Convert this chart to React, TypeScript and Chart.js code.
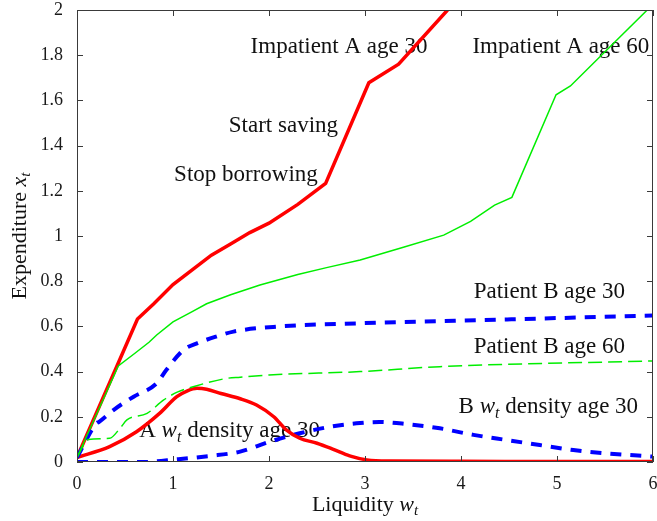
import React, { useEffect, useRef } from "react";
import { Chart, registerables } from "chart.js";

Chart.register(...registerables);

const FONT = '"Liberation Serif", "Times New Roman", serif';

// Impatient A age 30 (policy)
const impA30X = [0, 0.63, 0.8, 1.0, 1.2, 1.4, 1.6, 1.8, 2.0, 2.3, 2.59, 3.04, 3.35, 3.86];
const impA30Y = [0.02, 0.633, 0.70, 0.785, 0.85, 0.915, 0.965, 1.015, 1.057, 1.14, 1.233, 1.678, 1.76, 2.0];

// Impatient A age 60 (policy)
const impA60X = [0, 0.43, 0.6, 0.75, 0.83, 1.0, 1.2, 1.35, 1.6, 1.906, 2.3, 2.6, 2.95, 3.4, 3.82, 4.1, 4.35, 4.53, 4.99, 5.14, 5.5, 5.94];
const impA60Y = [0.02, 0.425, 0.48, 0.53, 0.562, 0.62, 0.665, 0.70, 0.74, 0.783, 0.83, 0.86, 0.894, 0.95, 1.004, 1.065, 1.137, 1.171, 1.625, 1.664, 1.815, 2.0];

// Patient B age 30 (policy)
const patB30X = [0, 0.2, 0.23, 0.38, 0.59, 0.83, 0.93, 1.11, 1.25, 1.45, 1.63, 2.08, 2.95, 4.48, 6];
const patB30Y = [0.02, 0.17, 0.178, 0.23, 0.289, 0.348, 0.407, 0.496, 0.525, 0.555, 0.577, 0.599, 0.614, 0.631, 0.648];

// Patient B age 60 (policy)
const patB60X = [0, 0.12, 0.34, 0.45, 0.52, 0.73, 0.9, 1.05, 1.21, 1.56, 1.7, 2.0, 2.95, 3.78, 6];
const patB60Y = [0.02, 0.10, 0.105, 0.15, 0.186, 0.215, 0.274, 0.31, 0.333, 0.37, 0.375, 0.385, 0.40, 0.422, 0.447];

// A w_t density age 30
const densAX = [0, 0.34, 0.62, 0.86, 1.04, 1.15, 1.25, 1.35, 1.5, 1.7, 1.87, 2.05, 2.18, 2.32, 2.5, 2.67, 2.84, 3.02, 3.26, 4, 5, 6];
const densAY = [0.02, 0.068, 0.134, 0.215, 0.289, 0.315, 0.326, 0.322, 0.303, 0.28, 0.252, 0.20, 0.142, 0.105, 0.083, 0.056, 0.027, 0.009, 0.004, 0.003, 0.002, 0.002];

// B w_t density age 30
const densBX = [0, 0.69, 1.04, 1.39, 1.70, 2.01, 2.32, 2.64, 2.91, 3.15, 3.43, 3.78, 4.13, 4.48, 4.82, 5.17, 5.52, 6];
const densBY = [0.0, 0.0, 0.012, 0.027, 0.046, 0.09, 0.127, 0.156, 0.171, 0.177, 0.168, 0.149, 0.12, 0.097, 0.075, 0.053, 0.038, 0.024];

const xTickValues = [0, 1, 2, 3, 4, 5, 6];
const xTickLabels = ["0", "1", "2", "3", "4", "5", "6"];
const yTickValues = [0, 0.2, 0.4, 0.6, 0.8, 1, 1.2, 1.4, 1.6, 1.8, 2];
const yTickLabels = ["0", "0.2", "0.4", "0.6", "0.8", "1", "1.2", "1.4", "1.6", "1.8", "2"];

type Part = [string, "" | "i" | "sub"];

const xTitle: Part[] = [["Liquidity ", ""], ["w", "i"], ["t", "sub"]];
const yTitle: Part[] = [["Expenditure ", ""], ["x", "i"], ["t", "sub"]];

const annotationTexts: Part[][] = [
  [["Impatient A age 30", ""]],
  [["Impatient A age 60", ""]],
  [["Start saving", ""]],
  [["Stop borrowing", ""]],
  [["Patient B age 30", ""]],
  [["Patient B age 60", ""]],
  [["B ", ""], ["w", "i"], ["t", "sub"], [" density age 30", ""]],
  [["A ", ""], ["w", "i"], ["t", "sub"], [" density age 30", ""]],
];
const annotationAt: [number, number][] = [
  [2.73, 1.836],
  [5.04, 1.836],
  [2.15, 1.487],
  [1.76, 1.27],
  [4.92, 0.754],
  [4.92, 0.507],
  [4.91, 0.242],
  [1.59, 0.136],
];

const pts = (xs: number[], ys: number[]) => xs.map((x, i) => ({ x, y: ys[i] }));

function partFont(style: string, size: number) {
  if (style === "i") return `italic ${size}px ${FONT}`;
  if (style === "sub") return `italic ${Math.round(size * 0.7)}px ${FONT}`;
  return `${size}px ${FONT}`;
}

function drawRich(ctx: CanvasRenderingContext2D, parts: Part[], cx: number, cy: number, size: number) {
  let total = 0;
  const widths = parts.map(([t, s]) => {
    ctx.font = partFont(s, size);
    const w = ctx.measureText(t).width;
    total += w;
    return w;
  });
  let x = cx - total / 2;
  ctx.textAlign = "left";
  ctx.textBaseline = "middle";
  parts.forEach(([t, s], i) => {
    ctx.font = partFont(s, size);
    ctx.fillText(t, x, s === "sub" ? cy + size * 0.28 : cy);
    x += widths[i];
  });
}

const decorPlugin = {
  id: "decor",
  beforeDatasetsDraw(chart: any) {
    const { ctx, chartArea: a, scales } = chart;
    const xs = scales.x;
    const ys = scales.y;
    ctx.save();
    ctx.fillStyle = "#111";
    annotationTexts.forEach((parts, i) => {
      const [vx, vy] = annotationAt[i];
      drawRich(ctx, parts, xs.getPixelForValue(vx), ys.getPixelForValue(vy), 23);
    });
    // axis titles
    drawRich(ctx, xTitle, (a.left + a.right) / 2, 505, 22);
    ctx.save();
    ctx.translate(20, (a.top + a.bottom) / 2);
    ctx.rotate(-Math.PI / 2);
    drawRich(ctx, yTitle, 0, 0, 22);
    ctx.restore();
    ctx.restore();
  },
  afterDatasetsDraw(chart: any) {
    const { ctx, chartArea: a, scales } = chart;
    const xs = scales.x;
    const ys = scales.y;
    ctx.save();
    ctx.strokeStyle = "#3a3a3a";
    ctx.lineWidth = 1;
    ctx.beginPath();
    ctx.rect(Math.round(a.left) + 0.5, Math.round(a.top) + 0.5, Math.round(a.right - a.left) - 1, Math.round(a.bottom - a.top) - 1);
    const tl = 6;
    xTickValues.forEach((v) => {
      const px = Math.round(xs.getPixelForValue(v)) + 0.5;
      ctx.moveTo(px, a.bottom);
      ctx.lineTo(px, a.bottom - tl);
      ctx.moveTo(px, a.top);
      ctx.lineTo(px, a.top + tl);
    });
    yTickValues.forEach((v) => {
      const py = Math.round(ys.getPixelForValue(v)) + 0.5;
      ctx.moveTo(a.left, py);
      ctx.lineTo(a.left + tl, py);
      ctx.moveTo(a.right, py);
      ctx.lineTo(a.right - tl, py);
    });
    ctx.stroke();
    ctx.restore();
  },
};

export default function App() {
  const ref = useRef<HTMLCanvasElement>(null);
  useEffect(() => {
    document.body.style.margin = "0";
    const canvas = ref.current;
    if (!canvas) return;
    const chart = new Chart(canvas, {
      type: "line",
      data: {
        datasets: [
          {
            label: "Impatient A age 60",
            data: pts(impA60X, impA60Y),
            borderColor: "#00ee00",
            borderWidth: 1.5,
            tension: 0,
          },
          {
            label: "Patient B age 60",
            data: pts(patB60X, patB60Y),
            borderColor: "#00ee00",
            borderWidth: 1.5,
            borderDash: [14, 6],
            cubicInterpolationMode: "monotone",
          },
          {
            label: "Patient B age 30",
            data: pts(patB30X, patB30Y),
            borderColor: "#0000ff",
            borderWidth: 4,
            borderDash: [11, 9],
            cubicInterpolationMode: "monotone",
          },
          {
            label: "Impatient A age 30",
            data: pts(impA30X, impA30Y),
            borderColor: "#ff0000",
            borderWidth: 3.5,
            tension: 0,
          },
          {
            label: "A density age 30",
            data: pts(densAX, densAY),
            borderColor: "#ff0000",
            borderWidth: 3.5,
            cubicInterpolationMode: "monotone",
          },
          {
            label: "B density age 30",
            data: pts(densBX, densBY),
            borderColor: "#0000ff",
            borderWidth: 4,
            borderDash: [11, 9],
            cubicInterpolationMode: "monotone",
          },
        ] as any,
      },
      options: {
        animation: false,
        responsive: false,
        maintainAspectRatio: false,
        layout: { padding: { left: 0, right: 4, top: 10, bottom: 0 } },
        elements: { point: { radius: 0 }, line: { fill: false } },
        plugins: { legend: { display: false }, tooltip: { enabled: false } },
        scales: {
          x: {
            type: "linear",
            min: 0,
            max: 6,
            grid: { display: false, drawTicks: false },
            border: { display: false },
            afterBuildTicks: (s: any) => {
              s.ticks = xTickValues.map((v) => ({ value: v }));
            },
            afterFit: (s: any) => {
              s.height = 59;
              s.paddingLeft = 0;
              s.paddingRight = 0;
              s.paddingTop = 0;
              s.paddingBottom = 0;
            },
            ticks: {
              autoSkip: false,
              maxRotation: 0,
              padding: 11,
              color: "#1a1a1a",
              font: { family: FONT, size: 18 },
              callback: (v: any) => xTickLabels[xTickValues.indexOf(Number(v))] ?? "",
            },
          },
          y: {
            type: "linear",
            min: 0,
            max: 2,
            grid: { display: false, drawTicks: false },
            border: { display: false },
            afterBuildTicks: (s: any) => {
              s.ticks = yTickValues.map((v) => ({ value: v }));
            },
            afterFit: (s: any) => {
              s.width = 77;
              s.paddingLeft = 0;
              s.paddingRight = 0;
              s.paddingTop = 0;
              s.paddingBottom = 0;
            },
            ticks: {
              autoSkip: false,
              padding: 14,
              color: "#1a1a1a",
              font: { family: FONT, size: 18 },
              callback: (v: any) => {
                const i = yTickValues.findIndex((t) => Math.abs(t - Number(v)) < 1e-9);
                return i >= 0 ? yTickLabels[i] : "";
              },
            },
          },
        },
      },
      plugins: [decorPlugin],
    });
    return () => chart.destroy();
  }, []);
  return (
    <div style={{ width: 657, height: 521 }}>
      <canvas ref={ref} width={657} height={521} style={{ display: "block" }} />
    </div>
  );
}
